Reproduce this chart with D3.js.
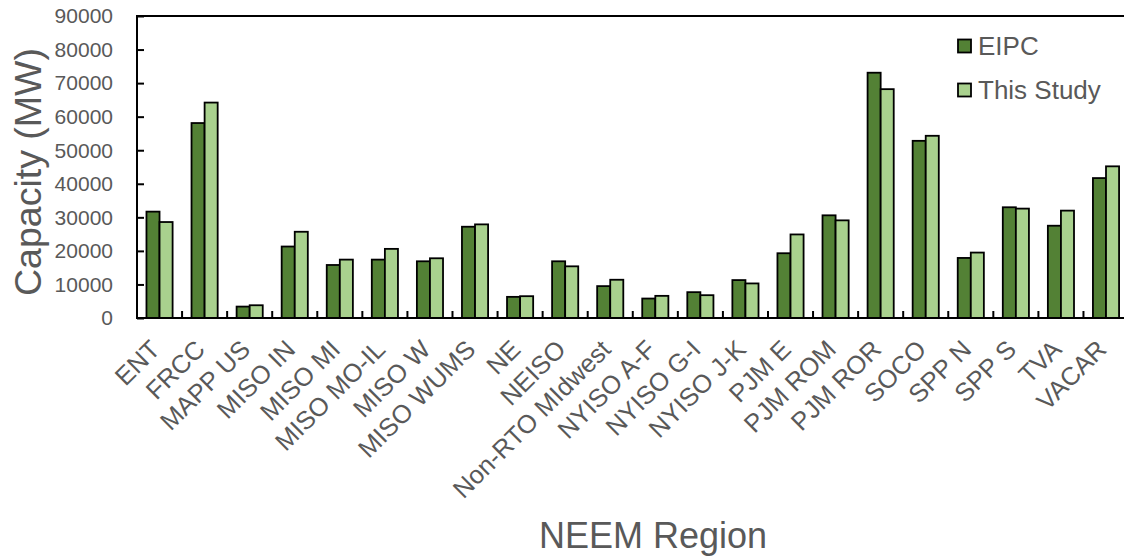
<!DOCTYPE html>
<html>
<head>
<meta charset="utf-8">
<script src="https://cdn.jsdelivr.net/npm/d3@7"></script>
<style>
  html, body { margin: 0; padding: 0; background: #fff; }
  svg { display: block; font-family: "Liberation Sans", Arial, sans-serif; }
</style>
</head>
<body>
<svg id="chart" width="1124" height="556"></svg>
<script>
// NEEM regions and installed capacity (MW)
const regions = ["ENT", "FRCC", "MAPP US", "MISO IN", "MISO MI", "MISO MO-IL", "MISO W",
  "MISO WUMS", "NE", "NEISO", "Non-RTO MIdwest", "NYISO A-F", "NYISO G-I", "NYISO J-K",
  "PJM E", "PJM ROM", "PJM ROR", "SOCO", "SPP N", "SPP S", "TVA", "VACAR"];
const seriesNames = ["EIPC", "This Study"];
const eipc = [31700, 58100, 3400, 21300, 15800, 17400, 16900, 27200, 6300, 16900, 9500,
  5800, 7700, 11300, 19300, 30600, 73100, 52800, 17900, 33000, 27500, 41700];
const thisStudy = [28600, 64200, 3800, 25700, 17400, 20600, 17800, 27900, 6500, 15400, 11400,
  6600, 6800, 10300, 24900, 29100, 68200, 54300, 19500, 32600, 32000, 45200];
const yTicks = [0, 10000, 20000, 30000, 40000, 50000, 60000, 70000, 80000, 90000];
const colors = ["#538135", "#A9D18E"];

const svg = d3.select("#chart");
const plotLeft = 137, plotTop = 16, plotBottom = 318;
const bandW = 45.07;
const plotRight = plotLeft + bandW * regions.length;
const textGrey = "#595959";

const x = d3.scaleBand().domain(regions).range([plotLeft, plotRight]).padding(0);
const xs = d3.scaleBand().domain(seriesNames)
  .range([x.bandwidth() * 0.21, x.bandwidth() * 0.79]).padding(0);
const y = d3.scaleLinear().domain([0, 90000]).range([plotBottom, plotTop]);

const rows = regions.map((r, i) => ({ region: r, values: [eipc[i], thisStudy[i]] }));

// bars
const g = svg.append("g");
g.selectAll("g.grp").data(rows).join("g")
  .attr("class", "grp")
  .attr("transform", d => `translate(${x(d.region)},0)`)
  .selectAll("rect").data(d => d.values.map((v, k) => ({ k, v })))
  .join("rect")
  .attr("x", d => xs(seriesNames[d.k]))
  .attr("y", d => y(d.v))
  .attr("width", xs.bandwidth())
  .attr("height", d => y(0) - y(d.v))
  .attr("fill", d => colors[d.k])
  .attr("stroke", "#000")
  .attr("stroke-width", 1.8);

// top frame line
svg.append("line")
  .attr("x1", plotLeft).attr("x2", 1124).attr("y1", plotTop).attr("y2", plotTop)
  .attr("stroke", "#000").attr("stroke-width", 2);

// y axis with inward ticks
const yAxis = d3.axisRight(y).tickValues(yTicks).tickSize(7).tickFormat("");
const yG = svg.append("g").attr("transform", `translate(${plotLeft},0)`).call(yAxis);
yG.select(".domain").remove();
yG.selectAll("line").attr("stroke", "#000").attr("stroke-width", 2);
svg.append("line")
  .attr("x1", plotLeft).attr("x2", plotLeft).attr("y1", plotTop - 1).attr("y2", plotBottom + 1)
  .attr("stroke", "#000").attr("stroke-width", 2);
svg.append("g").selectAll("text").data(yTicks).join("text")
  .attr("x", 113).attr("y", d => y(d)).attr("dy", "0.35em")
  .attr("text-anchor", "end").attr("font-size", 21).attr("fill", textGrey)
  .text(d => d);

// x axis: tick marks between categories, pointing up
const boundaries = d3.range(1, regions.length).map(i => plotLeft + i * x.step());
svg.append("g").selectAll("line").data(boundaries).join("line")
  .attr("x1", d => d).attr("x2", d => d).attr("y1", plotBottom).attr("y2", plotBottom - 7)
  .attr("stroke", "#000").attr("stroke-width", 2);
svg.append("line")
  .attr("x1", plotLeft - 1).attr("x2", 1124).attr("y1", plotBottom).attr("y2", plotBottom)
  .attr("stroke", "#000").attr("stroke-width", 2);

// rotated category labels
svg.append("g").selectAll("text").data(regions).join("text")
  .attr("transform", d => `translate(${x(d) + x.bandwidth() / 2 + 2},${351}) rotate(-45)`)
  .attr("text-anchor", "end").attr("font-size", 25.5).attr("fill", textGrey)
  .text(d => d);

// axis titles
svg.append("text")
  .attr("transform", `translate(41,172) rotate(-90)`)
  .attr("text-anchor", "middle").attr("font-size", 37.5).attr("fill", textGrey)
  .text("Capacity (MW)");
svg.append("text")
  .attr("x", 653).attr("y", 548)
  .attr("text-anchor", "middle").attr("font-size", 36).attr("fill", textGrey)
  .text("NEEM Region");

// legend
const legend = svg.append("g").selectAll("g").data(seriesNames).join("g")
  .attr("transform", (d, i) => `translate(958,${46 + i * 44})`);
legend.append("rect")
  .attr("x", 0).attr("y", -6.5).attr("width", 13).attr("height", 13)
  .attr("fill", (d, i) => colors[i]).attr("stroke", "#000").attr("stroke-width", 1.8);
legend.append("text")
  .attr("x", 20).attr("y", 0).attr("dy", "0.35em")
  .attr("font-size", 26).attr("fill", textGrey)
  .text(d => d);
</script>
</body>
</html>
